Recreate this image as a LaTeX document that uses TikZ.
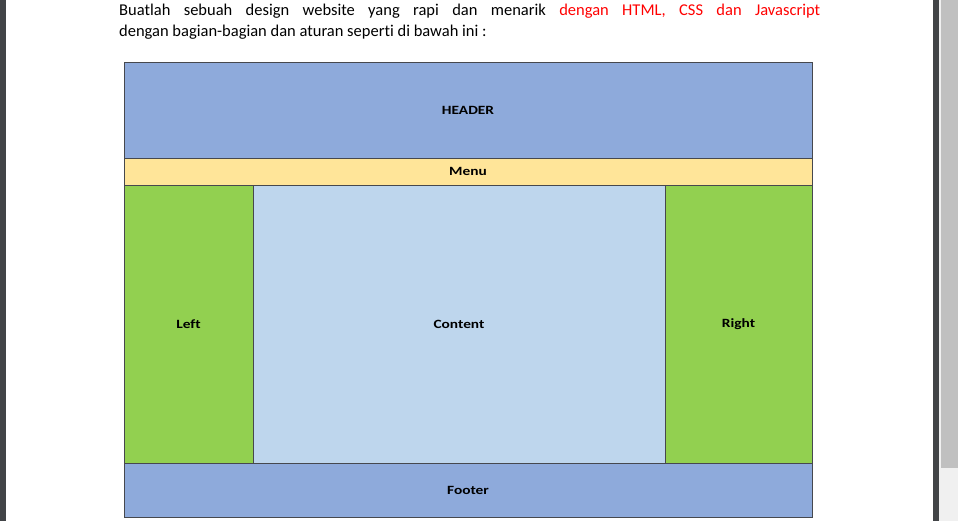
\documentclass[tikz,border=0pt]{standalone}
\usepackage{fontspec}
\setmainfont{Carlito}[Ligatures=NoCommon]
\newfontfamily\partfont[FakeStretch=1.22,Ligatures=NoCommon]{Carlito}
\usetikzlibrary{positioning}
\definecolor{hdrblue}{RGB}{142,170,219}
\definecolor{menuyellow}{RGB}{255,229,153}
\definecolor{sidegreen}{RGB}{146,208,80}
\definecolor{bodyblue}{RGB}{190,214,237}
\definecolor{edgegray}{RGB}{70,72,78}
\definecolor{bardark}{RGB}{66,68,71}
\definecolor{bargray}{RGB}{192,192,192}
\definecolor{barlight}{RGB}{240,240,240}
\definecolor{txtred}{RGB}{255,0,0}

\begin{document}
\begin{tikzpicture}[x=1pt,y=-1pt,
    part/.style={draw=edgegray,line width=0.9pt,inner sep=0pt,outer sep=0pt,
                 anchor=north west,align=center,
                 font=\partfont\fontsize{12.6}{14}\selectfont\bfseries},
    line/.style={anchor=base west,inner sep=0pt,
                 font=\fontsize{16.5}{19}\selectfont}
  ]
    \useasboundingbox (0,0) rectangle (958,521);
    \fill[white] (0,0) rectangle (958,521);
    % viewer frame
    \fill[bardark] (0,0) rectangle (6,521);
    \fill[bardark] (933,0) rectangle (939,521);
    \fill[barlight] (939,0) rectangle (958,521);
    \fill[bargray] (941,0) rectangle (958,468);
    % task text
    \node[line] (l1) at (119,16) {\makebox[701pt][s]{Buatlah sebuah design website yang rapi dan menarik \textcolor{txtred}{dengan HTML, CSS dan Javascript}}};
    \node[line] (l2) at (119,37) {dengan bagian-bagian dan aturan seperti di bawah ini :};
    % page layout
    \node[part,fill=hdrblue,minimum width=688pt,minimum height=96pt] (header) at (124,62) {HEADER};
    \node[part,fill=menuyellow,minimum width=688pt,minimum height=27pt] (menu) at (header.south west) {Menu};
    \node[part,fill=sidegreen,minimum width=129pt,minimum height=278pt] (left) at (menu.south west) {Left};
    \node[part,fill=bodyblue,minimum width=412pt,minimum height=278pt] (content) at (left.north east) {Content};
    \node[part,fill=sidegreen,minimum width=147pt,minimum height=278pt] (right) at (content.north east) {Right};
    \node[part,fill=hdrblue,minimum width=688pt,minimum height=54pt] (footer) at (left.south west) {Footer};
  \end{tikzpicture}
\end{document}
